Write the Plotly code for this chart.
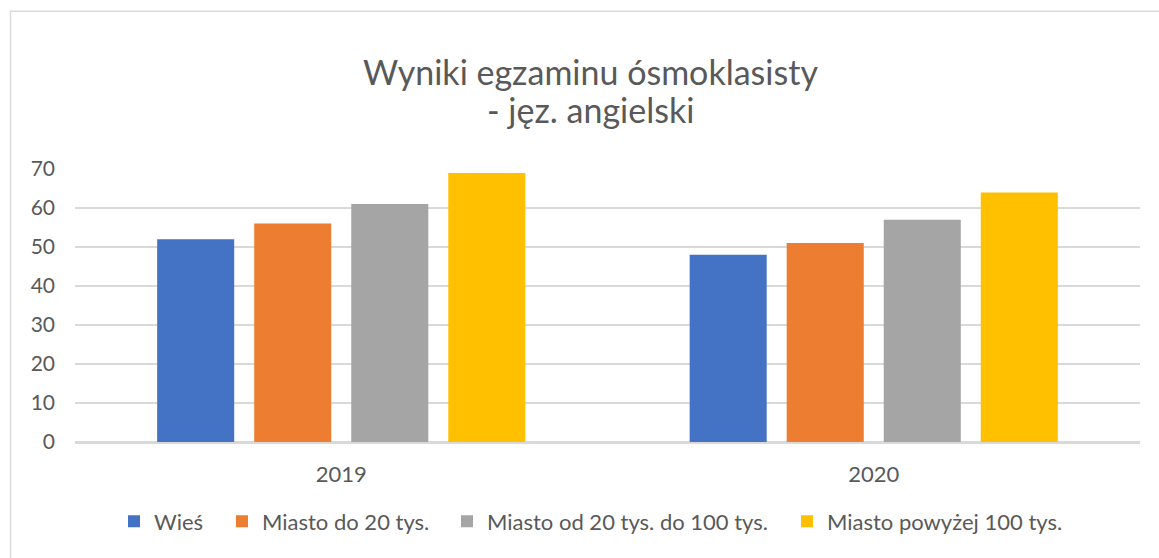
import plotly.graph_objects as go

# Exam results: English, grade-8 exam, by place of residence
years = ["2019", "2020"]
series_names = [
    "Wieś",
    "Miasto do 20 tys.",
    "Miasto od 20 tys. do 100 tys.",
    "Miasto powyżej 100 tys.",
]
wies = [52, 48]
miasto_do_20 = [56, 51]
miasto_20_100 = [61, 57]
miasto_pow_100 = [69, 64]
y_ticks = [0, 10, 20, 30, 40, 50, 60, 70]
title_lines = ["Wyniki egzaminu ósmoklasisty", "- jęz. angielski"]

colors = ["#4472C4", "#ED7D31", "#A5A5A5", "#FFC000"]
values = [wies, miasto_do_20, miasto_20_100, miasto_pow_100]

FONT = "Lato, 'Open Sans', sans-serif"
TEXT = "#595959"
GRID = "#D9D9D9"

W, H = 1159, 558
L, R, T, B = 75, 19, 169, 115.5
pw, ph = W - L - R, H - T - B


def px_x(px):
    return (px - L) / pw


def px_y(py):
    return (H - B - py) / ph


# one legend per series so each entry sits at its own spot along the bottom
legend_ids = ["legend", "legend2", "legend3", "legend4"]
legend_left_px = [114, 222, 447, 787]

fig = go.Figure()
for name, vals, col, lg in zip(series_names, values, colors, legend_ids):
    fig.add_trace(
        go.Bar(x=years, y=vals, name=name, legend=lg,
               marker=dict(color=col, line=dict(width=0)))
    )

legend_style = {}
for lg, lx in zip(legend_ids, legend_left_px):
    legend_style[lg] = dict(
        orientation="h",
        x=px_x(lx),
        xanchor="left",
        y=px_y(522),
        yanchor="middle",
        bgcolor="rgba(0,0,0,0)",
        font=dict(family=FONT, size=22, color=TEXT),
        itemwidth=30,
    )

fig.update_layout(
    width=W,
    height=H,
    margin=dict(l=L, r=R, t=T, b=B, pad=0),
    paper_bgcolor="white",
    plot_bgcolor="white",
    barmode="group",
    bargap=0.271,
    bargroupgap=0.206,
    font=dict(family=FONT, color=TEXT, size=20),
    xaxis=dict(
        showgrid=False,
        showline=True,
        linecolor=GRID,
        linewidth=1.5,
        ticks="",
        tickfont=dict(size=22, color=TEXT),
        ticklabelstandoff=12,
    ),
    yaxis=dict(
        range=[0, 70],
        tickvals=y_ticks,
        showgrid=True,
        gridcolor=GRID,
        gridwidth=1.5,
        zeroline=True,
        zerolinecolor=GRID,
        zerolinewidth=1.5,
        showline=False,
        ticks="",
        tickfont=dict(size=21, color=TEXT),
        ticklabelstandoff=19,
    ),
    showlegend=True,
    **legend_style,
)

# Two-line chart title
for text, cy in zip(title_lines, [71, 109]):
    fig.add_annotation(
        text=text,
        xref="paper",
        yref="paper",
        x=px_x(590),
        y=px_y(cy),
        xanchor="center",
        yanchor="middle",
        showarrow=False,
        font=dict(family=FONT, size=34, color=TEXT),
    )

# Chart frame
fig.add_shape(
    type="rect",
    xref="paper",
    yref="paper",
    x0=px_x(10.5),
    x1=px_x(1175),
    y0=px_y(575),
    y1=px_y(11),
    line=dict(color=GRID, width=1.5),
    fillcolor="rgba(0,0,0,0)",
    layer="below",
)

fig.write_html("out.html")
